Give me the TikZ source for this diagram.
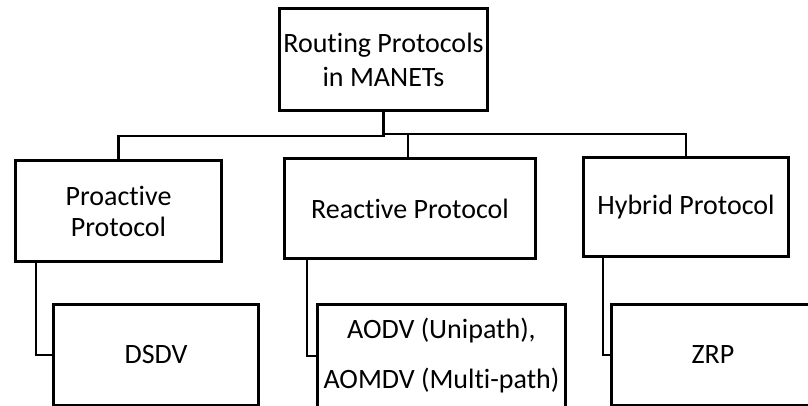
\documentclass[tikz,border=0pt]{standalone}
\usepackage{fontspec}
\setmainfont[Ligatures=NoCommon]{Carlito}
\begin{document}
\begin{tikzpicture}[x=1pt,y=-1pt,
  box/.style={draw=black, line width=3pt, rectangle, align=center, inner sep=0pt,
    font=\fontsize{28}{34}\selectfont},
  conn/.style={draw=black, line width=2.6pt}]
\useasboundingbox (0,0) rectangle (808,406);
\clip (0,0) rectangle (808,406);
\node[box, minimum width=208pt, minimum height=102pt] (top) at (383.5,59.5) {Routing Protocols\\in MANETs};
\node[box, minimum width=206pt, minimum height=101pt, font=\fontsize{28}{31}\selectfont] (pro) at (118.5,211) {Proactive\\Protocol};
\node[box, minimum width=251pt, minimum height=100pt] (rea) at (410,208.5) {Reactive Protocol};
\node[box, minimum width=205pt, minimum height=99pt] (hyb) at (686,207) {Hybrid Protocol};
\node[box, minimum width=205pt, minimum height=101pt] (dsdv) at (156,355) {DSDV};
\node[box, minimum width=248pt, minimum height=103pt, font=\fontsize{28}{50}\selectfont] (aodv) at (441.5,356) {AODV (Unipath),\\AOMDV (Multi-path)};
\node[box, minimum width=204pt, minimum height=101pt] (zrp) at (713,355) {ZRP};
\coordinate (hl) at (383.5,136);
\coordinate (hr) at (383.5,134);
\draw[conn] (top.south) -- (hl) -| (pro.north);
\draw[conn] (top.south) -- (hr) -| (hyb.north);
\draw[conn] (rea.north -| 408,0) -- (hr -| 408,0);
\draw[conn] ([xshift=22pt]pro.south west) |- (dsdv.west);
\draw[conn] ([xshift=24pt]rea.south west) |- (aodv.west);
\draw[conn] ([xshift=21pt]hyb.south west) |- (zrp.west);
\end{tikzpicture}
\end{document}
